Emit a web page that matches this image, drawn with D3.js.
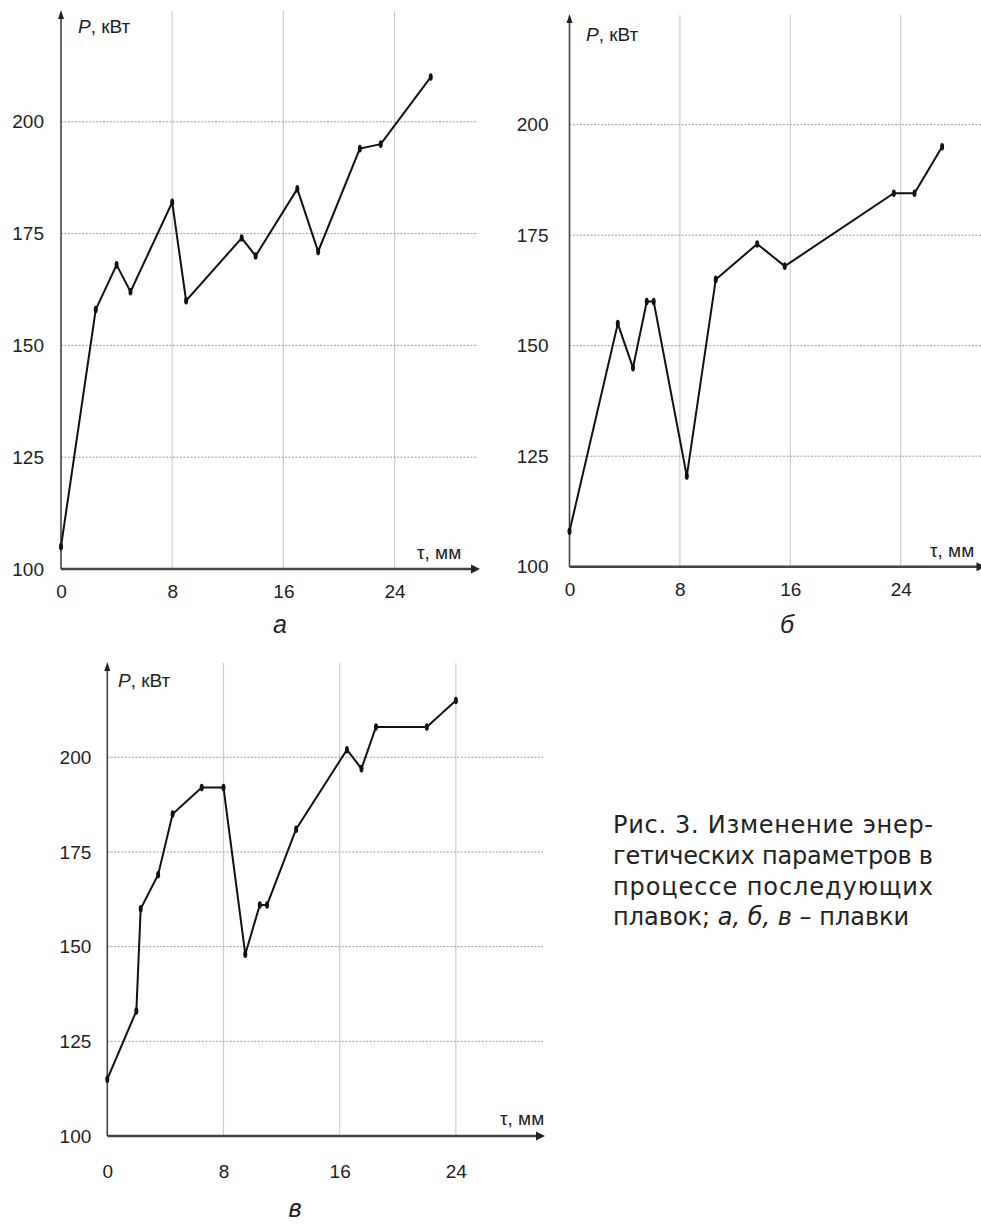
<!DOCTYPE html>
<html><head><meta charset="utf-8">
<script src="https://cdn.jsdelivr.net/npm/d3@7"></script>
<style>
body{margin:0;background:#fff;}
svg{display:block;font-family:Arial,"Liberation Sans",sans-serif;}
</style></head>
<body><svg id="c" width="981" height="1224"></svg>
<script>
// ---- data ----
const xTicks = [0, 8, 16, 24];
const yTicks = [100, 125, 150, 175, 200];
const yGrid = [125, 150, 175, 200];
const xGrid = [8, 16, 24];

const aX = [0, 2.5, 4, 5, 8, 9, 13, 14, 17, 18.5, 21.5, 23, 26.6];
const aP = [105, 158, 168, 162, 182, 160, 174, 170, 185, 171, 194, 195, 210];

const bX = [0, 3.5, 4.6, 5.6, 6.1, 8.5, 10.6, 13.6, 15.6, 23.5, 25, 27];
const bP = [108, 155, 145, 160, 160, 120.5, 165, 173, 168, 184.5, 184.5, 195];

const cX = [0, 2, 2.3, 3.5, 4.5, 6.5, 8, 9.5, 10.5, 11, 13, 16.5, 17.5, 18.5, 22, 24];
const cP = [115, 133, 160, 169, 185, 192, 192, 148, 161, 161, 181, 202, 197, 208, 208, 215];

const yLabel = "кВт";
const xLabel = "τ, мм";
const panelNames = ["а", "б", "в"];
const captionLines = ["Рис. 3. Изменение энер-", "гетических параметров в", "процессе последующих"];

// ---- layout ----
const FONT = "Arial,'Liberation Sans',sans-serif";
const panels = [
  {xs:aX, ys:aP, name:panelNames[0], xr:[61,478], yr:[569,10], yTop:12, ylPad:17, xlPad:16,
   pl:[78,33], tl:[417,559], nm:[280,633]},
  {xs:bX, ys:bP, name:panelNames[1], xr:[569.5,983.5], yr:[566.7,14.2], yTop:16, ylPad:21, xlPad:16,
   pl:[586,41], tl:[930,557], nm:[787,633]},
  {xs:cX, ys:cP, name:panelNames[2], xr:[107.3,543], yr:[1136,662.6], yTop:664, ylPad:16, xlPad:29,
   pl:[118,687], tl:[500,1125], nm:[295,1217]}
];

const svg = d3.select("#c");

panels.forEach((p, i) => {
  const x = d3.scaleLinear().domain([0, 30]).range(p.xr);
  const y = d3.scaleLinear().domain([100, 225]).range(p.yr);
  const g = svg.append("g");
  const x0 = x(0), y0 = y(100), xEnd = x(30);

  // vertical grid
  g.selectAll(".vg").data(xGrid).join("line")
    .attr("x1", d => x(d)).attr("x2", d => x(d))
    .attr("y1", p.yTop - 1).attr("y2", y0)
    .attr("stroke", "#cfcfcf").attr("stroke-width", 1.2);
  // horizontal grid
  g.selectAll(".hg").data(yGrid).join("line")
    .attr("x1", x0).attr("x2", xEnd)
    .attr("y1", d => y(d)).attr("y2", d => y(d))
    .attr("stroke", "#9a9a9a").attr("stroke-width", 1).attr("stroke-dasharray", "2,1.5");

  // y axis labels
  const ya = g.append("g").attr("transform", `translate(${x0},0)`)
    .call(d3.axisLeft(y).tickValues(yTicks).tickSize(0).tickPadding(p.ylPad));
  ya.select(".domain").remove();
  ya.attr("font-family", FONT);
  ya.selectAll("text").attr("font-size", 19).attr("fill", "#222");

  // x axis labels
  const xa = g.append("g").attr("transform", `translate(0,${y0})`)
    .call(d3.axisBottom(x).tickValues(xTicks).tickSize(0).tickPadding(p.xlPad));
  xa.select(".domain").remove();
  xa.attr("font-family", FONT);
  xa.selectAll("text").attr("font-size", 19).attr("fill", "#222");

  // y axis line + arrow
  g.append("line").attr("x1", x0).attr("x2", x0).attr("y1", p.yTop + 4).attr("y2", y0)
    .attr("stroke", "#444").attr("stroke-width", 1.6);
  g.append("path").attr("d", `M${x0},${p.yTop - 2} L${x0 - 3},${p.yTop + 7} L${x0 + 3},${p.yTop + 7} Z`)
    .attr("fill", "#222");
  // x axis line + arrow
  g.append("line").attr("x1", x0).attr("x2", xEnd - 4).attr("y1", y0).attr("y2", y0)
    .attr("stroke", "#444").attr("stroke-width", 2.6);
  g.append("path").attr("d", `M${xEnd + 2},${y0} L${xEnd - 7},${y0 - 4.5} L${xEnd - 7},${y0 + 4.5} Z`)
    .attr("fill", "#222");

  // data line
  const pts = p.xs.map((v, k) => [v, p.ys[k]]);
  g.append("path").datum(pts)
    .attr("d", d3.line().x(d => x(d[0])).y(d => y(d[1])))
    .attr("fill", "none").attr("stroke", "#111").attr("stroke-width", 2)
    .attr("stroke-linejoin", "miter");
  g.selectAll(".pt").data(pts).join("ellipse")
    .attr("cx", d => x(d[0])).attr("cy", d => y(d[1]))
    .attr("rx", 2).attr("ry", 3.8).attr("fill", "#111");

  // axis titles
  const pt = g.append("text").attr("x", p.pl[0]).attr("y", p.pl[1])
    .attr("font-size", 19).attr("fill", "#222");
  pt.append("tspan").attr("font-style", "italic").text("P");
  pt.append("tspan").text(", " + yLabel);
  g.append("text").attr("x", p.tl[0]).attr("y", p.tl[1])
    .attr("font-size", 19).attr("fill", "#222").text(xLabel);

  // panel name
  g.append("text").attr("x", p.nm[0]).attr("y", p.nm[1]).attr("text-anchor", "middle")
    .attr("font-size", 25).attr("font-style", "italic").attr("fill", "#222").text(p.name);
});

// caption (first three lines justified)
const cap = svg.append("g").attr("font-size", 24).attr("fill", "#222")
  .attr("font-family", "'DejaVu Sans',sans-serif");
captionLines.forEach((t, i) => {
  cap.append("text").attr("x", 613).attr("y", 833 + i * 30.8)
    .attr("textLength", 320).attr("lengthAdjust", "spacing").text(t);
});
const last = cap.append("text").attr("x", 613).attr("y", 833 + 3 * 30.8);
last.append("tspan").text("плавок; ");
last.append("tspan").attr("font-style", "italic").text("а, б, в");
last.append("tspan").text(" – плавки");
</script>
</body></html>
